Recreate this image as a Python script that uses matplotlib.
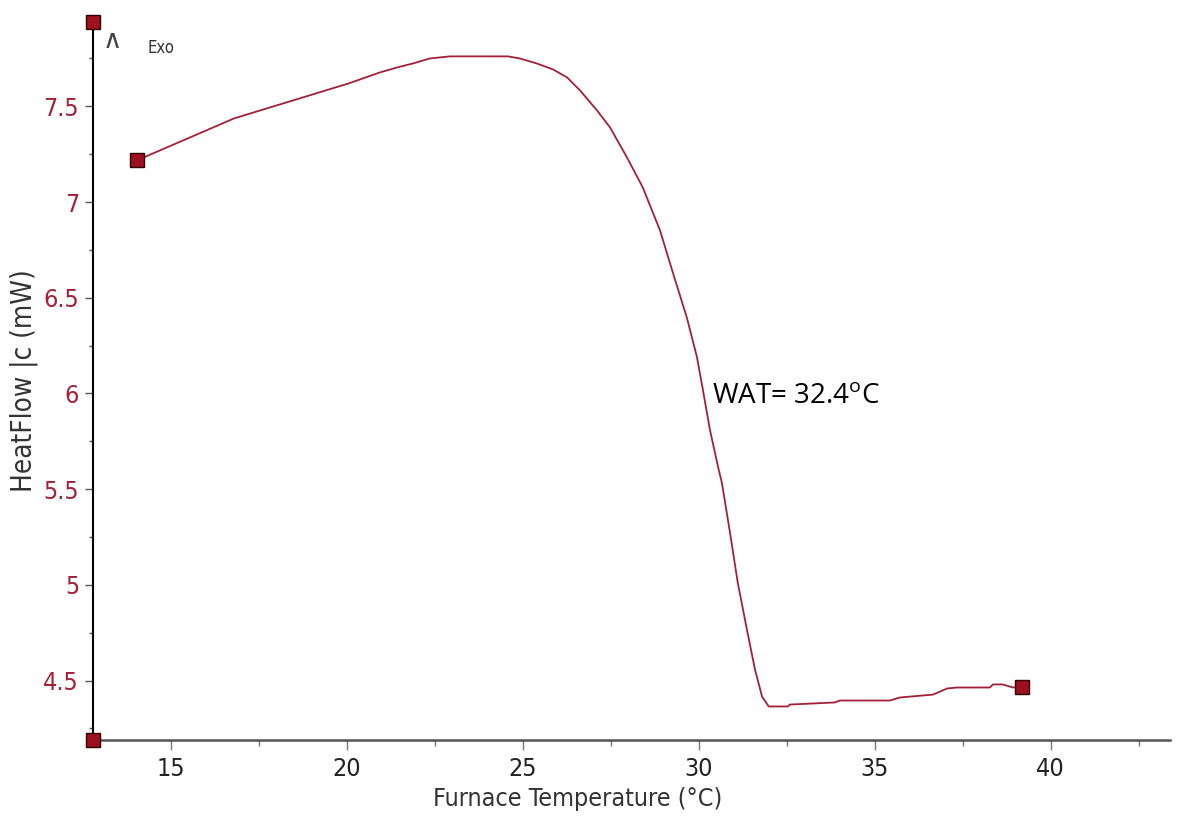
import matplotlib.pyplot as plt
from matplotlib.ticker import MultipleLocator, FormatStrFormatter

# curve
temp = [14.04, 16.80, 20.06, 20.94, 21.43, 21.88, 22.36, 22.93, 24.58, 24.92,
        25.40, 25.86, 26.26, 26.63, 27.11, 27.48, 27.96, 28.41, 28.90, 29.27,
        29.66, 29.95, 30.12, 30.32, 30.55, 30.66, 30.89, 31.11, 31.37, 31.60,
        31.80, 31.99, 32.53, 32.59, 33.87, 34.01, 35.43, 35.72, 36.66, 37.06,
        37.34, 38.27, 38.36, 38.64, 38.93, 39.18]
heatflow = [7.218, 7.437, 7.620, 7.677, 7.703, 7.724, 7.750, 7.761, 7.761, 7.750,
            7.724, 7.693, 7.651, 7.583, 7.479, 7.390, 7.234, 7.077, 6.853, 6.629,
            6.399, 6.191, 6.019, 5.810, 5.617, 5.533, 5.273, 5.012, 4.767, 4.558,
            4.417, 4.365, 4.365, 4.375, 4.386, 4.396, 4.396, 4.412, 4.427, 4.459,
            4.464, 4.464, 4.480, 4.480, 4.464, 4.469]

xlim = (12.79, 43.39)
ylim = (4.19, 7.94)
wat_label = 'WAT= 32.4$^{\\mathregular{o}}$C'

red = '#a3203a'
fam = 'DejaVu Sans'

fig = plt.figure(figsize=(11.77, 8.19), dpi=100)
ax = fig.add_axes([0.079, 0.0965, 0.915, 0.8765])

ax.plot(temp, heatflow, color=red, lw=1.3, zorder=3)
ax.plot([temp[0], temp[-1]], [heatflow[0], heatflow[-1]], ls='none', marker='s',
        ms=10, mfc='#9e1020', mec='#300000', mew=1, zorder=4)
# markers at the ends of the y axis
ax.plot([xlim[0], xlim[0]], [ylim[0], ylim[1]], ls='none', marker='s', ms=10,
        mfc='#9e1020', mec='#300000', mew=1, zorder=5, clip_on=False)

ax.set_xlim(*xlim)
ax.set_ylim(*ylim)

ax.spines['top'].set_visible(False)
ax.spines['right'].set_visible(False)
ax.spines['left'].set_color('black')
ax.spines['left'].set_linewidth(1.5)
ax.spines['bottom'].set_color('#555555')
ax.spines['bottom'].set_linewidth(1.8)

ax.xaxis.set_major_locator(MultipleLocator(5))
ax.xaxis.set_minor_locator(MultipleLocator(2.5))
ax.yaxis.set_major_locator(MultipleLocator(0.5))
ax.yaxis.set_minor_locator(MultipleLocator(0.25))
ax.yaxis.set_major_formatter(FormatStrFormatter('%g'))

ax.tick_params(axis='y', which='major', length=6, width=1, colors='#555555', labelcolor=red, labelsize=18, pad=4)
ax.tick_params(axis='y', which='minor', length=3, width=1, colors='#555555')
ax.tick_params(axis='x', which='major', length=7, width=1, colors='#777777', labelcolor='#222222', labelsize=18, pad=5)
ax.tick_params(axis='x', which='minor', length=4, width=1, colors='#777777')
for lab in ax.get_xticklabels() + ax.get_yticklabels():
    lab.set_family(fam)
    lab.set_stretch('condensed')

ax.set_xlabel('Furnace Temperature (°C)', fontsize=18, color='#333333', family=fam,
              stretch='condensed')
ax.xaxis.set_label_coords(0.45, -0.066)
ax.set_ylabel('HeatFlow |c (mW)', fontsize=20, color='#333333', family=fam,
              stretch='condensed', labelpad=4)

ax.text(0.009, 0.992, '\u2227', transform=ax.transAxes, fontsize=19, color='#444444',
        va='top', family=fam)
ax.text(0.051, 0.977, 'Exo', transform=ax.transAxes, fontsize=12, color='#333333', va='top',
        family=fam, stretch='condensed')

ax.text(30.38, 5.98, wat_label, fontsize=20, color='black', va='center', ha='left', family='Open Sans')

fig.savefig('out.png', dpi=100)
